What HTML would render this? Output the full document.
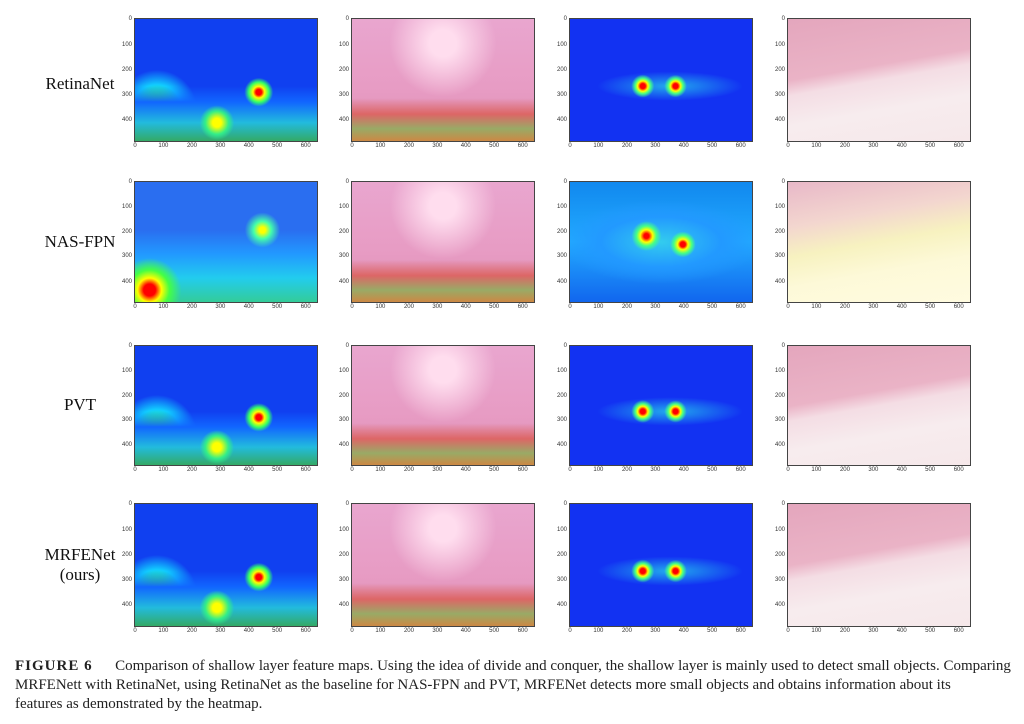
<!DOCTYPE html>
<html><head><meta charset="utf-8"><style>
body{margin:0;width:1024px;height:724px;background:#fff;position:relative;overflow:hidden;font-family:"Liberation Serif",serif;}
.p{position:absolute;width:184px;height:124px;border:1px solid #444;box-sizing:border-box;}
.yl{position:absolute;right:100%;margin-right:3px;font:6px "Liberation Sans",sans-serif;color:#333;transform:translateY(-50%);}
.xl{position:absolute;top:100%;margin-top:2px;font:6px "Liberation Sans",sans-serif;color:#333;transform:translateX(-50%);}
.rl{position:absolute;width:120px;left:20px;text-align:center;font-size:17px;color:#111;line-height:20px;}
.c1{background:
radial-gradient(circle at 68% 60%,#f00 2%,#ff0 4%,#3f6 7%,transparent 10%),
radial-gradient(circle at 45% 85%,#ff0 3%,#3e8 8%,transparent 12%),
linear-gradient(to top,#3a6 0%,#2bd 15%,#16f 32%,transparent 45%),
radial-gradient(circle at 12% 75%,#4f4 5%,#1cf 14%,transparent 22%),
#1040f0;}
.c1b{background:
radial-gradient(circle at 8% 90%,#f00 3%,#ff0 6%,#4f4 10%,transparent 16%),
radial-gradient(circle at 70% 40%,#ff0 2%,#4fa 6%,transparent 12%),
linear-gradient(to top,#3c9 0%,#2ce 20%,#29f 40%,transparent 60%),
#2a6ef0;}
.c2{background:
linear-gradient(to top,#c84 0%,#9a6 10%,#d66 22%,transparent 35%),
radial-gradient(circle at 50% 20%,#fde 10%,transparent 40%),
linear-gradient(#e9a6cf,#e79bc3 60%,#d98eb0);}
.c3{background:
radial-gradient(circle at 40% 55%,#f00 2%,#ff0 4%,#4f8 6%,transparent 9%),
radial-gradient(circle at 58% 55%,#f00 2%,#ff0 4%,#4f8 6%,transparent 9%),
radial-gradient(ellipse 40% 12% at 55% 55%,#2ae 0%,transparent 100%),
#1232f2;}
.c3b{background:
radial-gradient(circle at 42% 45%,#f00 2%,#ff0 5%,#4f8 8%,transparent 12%),
radial-gradient(circle at 62% 52%,#f00 2%,#ff0 4%,#4f8 7%,transparent 10%),
radial-gradient(ellipse 55% 35% at 50% 50%,#3ce 0%,#29f 60%,transparent 100%),
linear-gradient(#18e,#2af 50%,#16e);}
.c4{background:
linear-gradient(170deg,#e4a6bd 0%,#eab3c6 40%,#f4dde4 50%,#f7ecee 70%,#f6e8ea 100%);}
.c4b{background:
linear-gradient(170deg,#e8b8c8 0%,#f3d6cf 30%,#f7f2c0 50%,#fdf9d8 70%,#fffbe0 100%);}
.cap{position:absolute;left:15px;font-size:15px;color:#222;white-space:nowrap;}
</style></head><body>

<div class="rl" style="top:74px">RetinaNet</div>
<div class="rl" style="top:232px">NAS-FPN</div>
<div class="rl" style="top:395px">PVT</div>
<div class="rl" style="top:545px">MRFENet<br>(ours)</div>

<!-- row 1 -->
<div class="p c1" style="left:134px;top:18px"><span class="yl" style="top:0">0</span><span class="yl" style="top:21%">100</span><span class="yl" style="top:42%">200</span><span class="yl" style="top:62%">300</span><span class="yl" style="top:83%">400</span><span class="xl" style="left:0">0</span><span class="xl" style="left:15.6%">100</span><span class="xl" style="left:31.3%">200</span><span class="xl" style="left:46.9%">300</span><span class="xl" style="left:62.5%">400</span><span class="xl" style="left:78.1%">500</span><span class="xl" style="left:93.8%">600</span></div>
<div class="p c2" style="left:351px;top:18px"><span class="yl" style="top:0">0</span><span class="yl" style="top:21%">100</span><span class="yl" style="top:42%">200</span><span class="yl" style="top:62%">300</span><span class="yl" style="top:83%">400</span><span class="xl" style="left:0">0</span><span class="xl" style="left:15.6%">100</span><span class="xl" style="left:31.3%">200</span><span class="xl" style="left:46.9%">300</span><span class="xl" style="left:62.5%">400</span><span class="xl" style="left:78.1%">500</span><span class="xl" style="left:93.8%">600</span></div>
<div class="p c3" style="left:569px;top:18px"><span class="yl" style="top:0">0</span><span class="yl" style="top:21%">100</span><span class="yl" style="top:42%">200</span><span class="yl" style="top:62%">300</span><span class="yl" style="top:83%">400</span><span class="xl" style="left:0">0</span><span class="xl" style="left:15.6%">100</span><span class="xl" style="left:31.3%">200</span><span class="xl" style="left:46.9%">300</span><span class="xl" style="left:62.5%">400</span><span class="xl" style="left:78.1%">500</span><span class="xl" style="left:93.8%">600</span></div>
<div class="p c4" style="left:787px;top:18px"><span class="yl" style="top:0">0</span><span class="yl" style="top:21%">100</span><span class="yl" style="top:42%">200</span><span class="yl" style="top:62%">300</span><span class="yl" style="top:83%">400</span><span class="xl" style="left:0">0</span><span class="xl" style="left:15.6%">100</span><span class="xl" style="left:31.3%">200</span><span class="xl" style="left:46.9%">300</span><span class="xl" style="left:62.5%">400</span><span class="xl" style="left:78.1%">500</span><span class="xl" style="left:93.8%">600</span></div>

<!-- row 2 -->
<div class="p c1b" style="left:134px;top:181px;height:122px"><span class="yl" style="top:0">0</span><span class="yl" style="top:21%">100</span><span class="yl" style="top:42%">200</span><span class="yl" style="top:62%">300</span><span class="yl" style="top:83%">400</span><span class="xl" style="left:0">0</span><span class="xl" style="left:15.6%">100</span><span class="xl" style="left:31.3%">200</span><span class="xl" style="left:46.9%">300</span><span class="xl" style="left:62.5%">400</span><span class="xl" style="left:78.1%">500</span><span class="xl" style="left:93.8%">600</span></div>
<div class="p c2" style="left:351px;top:181px;height:122px"><span class="yl" style="top:0">0</span><span class="yl" style="top:21%">100</span><span class="yl" style="top:42%">200</span><span class="yl" style="top:62%">300</span><span class="yl" style="top:83%">400</span><span class="xl" style="left:0">0</span><span class="xl" style="left:15.6%">100</span><span class="xl" style="left:31.3%">200</span><span class="xl" style="left:46.9%">300</span><span class="xl" style="left:62.5%">400</span><span class="xl" style="left:78.1%">500</span><span class="xl" style="left:93.8%">600</span></div>
<div class="p c3b" style="left:569px;top:181px;height:122px"><span class="yl" style="top:0">0</span><span class="yl" style="top:21%">100</span><span class="yl" style="top:42%">200</span><span class="yl" style="top:62%">300</span><span class="yl" style="top:83%">400</span><span class="xl" style="left:0">0</span><span class="xl" style="left:15.6%">100</span><span class="xl" style="left:31.3%">200</span><span class="xl" style="left:46.9%">300</span><span class="xl" style="left:62.5%">400</span><span class="xl" style="left:78.1%">500</span><span class="xl" style="left:93.8%">600</span></div>
<div class="p c4b" style="left:787px;top:181px;height:122px"><span class="yl" style="top:0">0</span><span class="yl" style="top:21%">100</span><span class="yl" style="top:42%">200</span><span class="yl" style="top:62%">300</span><span class="yl" style="top:83%">400</span><span class="xl" style="left:0">0</span><span class="xl" style="left:15.6%">100</span><span class="xl" style="left:31.3%">200</span><span class="xl" style="left:46.9%">300</span><span class="xl" style="left:62.5%">400</span><span class="xl" style="left:78.1%">500</span><span class="xl" style="left:93.8%">600</span></div>

<!-- row 3 -->
<div class="p c1" style="left:134px;top:345px;height:121px"><span class="yl" style="top:0">0</span><span class="yl" style="top:21%">100</span><span class="yl" style="top:42%">200</span><span class="yl" style="top:62%">300</span><span class="yl" style="top:83%">400</span><span class="xl" style="left:0">0</span><span class="xl" style="left:15.6%">100</span><span class="xl" style="left:31.3%">200</span><span class="xl" style="left:46.9%">300</span><span class="xl" style="left:62.5%">400</span><span class="xl" style="left:78.1%">500</span><span class="xl" style="left:93.8%">600</span></div>
<div class="p c2" style="left:351px;top:345px;height:121px"><span class="yl" style="top:0">0</span><span class="yl" style="top:21%">100</span><span class="yl" style="top:42%">200</span><span class="yl" style="top:62%">300</span><span class="yl" style="top:83%">400</span><span class="xl" style="left:0">0</span><span class="xl" style="left:15.6%">100</span><span class="xl" style="left:31.3%">200</span><span class="xl" style="left:46.9%">300</span><span class="xl" style="left:62.5%">400</span><span class="xl" style="left:78.1%">500</span><span class="xl" style="left:93.8%">600</span></div>
<div class="p c3" style="left:569px;top:345px;height:121px"><span class="yl" style="top:0">0</span><span class="yl" style="top:21%">100</span><span class="yl" style="top:42%">200</span><span class="yl" style="top:62%">300</span><span class="yl" style="top:83%">400</span><span class="xl" style="left:0">0</span><span class="xl" style="left:15.6%">100</span><span class="xl" style="left:31.3%">200</span><span class="xl" style="left:46.9%">300</span><span class="xl" style="left:62.5%">400</span><span class="xl" style="left:78.1%">500</span><span class="xl" style="left:93.8%">600</span></div>
<div class="p c4" style="left:787px;top:345px;height:121px"><span class="yl" style="top:0">0</span><span class="yl" style="top:21%">100</span><span class="yl" style="top:42%">200</span><span class="yl" style="top:62%">300</span><span class="yl" style="top:83%">400</span><span class="xl" style="left:0">0</span><span class="xl" style="left:15.6%">100</span><span class="xl" style="left:31.3%">200</span><span class="xl" style="left:46.9%">300</span><span class="xl" style="left:62.5%">400</span><span class="xl" style="left:78.1%">500</span><span class="xl" style="left:93.8%">600</span></div>

<!-- row 4 -->
<div class="p c1" style="left:134px;top:503px"><span class="yl" style="top:0">0</span><span class="yl" style="top:21%">100</span><span class="yl" style="top:42%">200</span><span class="yl" style="top:62%">300</span><span class="yl" style="top:83%">400</span><span class="xl" style="left:0">0</span><span class="xl" style="left:15.6%">100</span><span class="xl" style="left:31.3%">200</span><span class="xl" style="left:46.9%">300</span><span class="xl" style="left:62.5%">400</span><span class="xl" style="left:78.1%">500</span><span class="xl" style="left:93.8%">600</span></div>
<div class="p c2" style="left:351px;top:503px"><span class="yl" style="top:0">0</span><span class="yl" style="top:21%">100</span><span class="yl" style="top:42%">200</span><span class="yl" style="top:62%">300</span><span class="yl" style="top:83%">400</span><span class="xl" style="left:0">0</span><span class="xl" style="left:15.6%">100</span><span class="xl" style="left:31.3%">200</span><span class="xl" style="left:46.9%">300</span><span class="xl" style="left:62.5%">400</span><span class="xl" style="left:78.1%">500</span><span class="xl" style="left:93.8%">600</span></div>
<div class="p c3" style="left:569px;top:503px"><span class="yl" style="top:0">0</span><span class="yl" style="top:21%">100</span><span class="yl" style="top:42%">200</span><span class="yl" style="top:62%">300</span><span class="yl" style="top:83%">400</span><span class="xl" style="left:0">0</span><span class="xl" style="left:15.6%">100</span><span class="xl" style="left:31.3%">200</span><span class="xl" style="left:46.9%">300</span><span class="xl" style="left:62.5%">400</span><span class="xl" style="left:78.1%">500</span><span class="xl" style="left:93.8%">600</span></div>
<div class="p c4" style="left:787px;top:503px"><span class="yl" style="top:0">0</span><span class="yl" style="top:21%">100</span><span class="yl" style="top:42%">200</span><span class="yl" style="top:62%">300</span><span class="yl" style="top:83%">400</span><span class="xl" style="left:0">0</span><span class="xl" style="left:15.6%">100</span><span class="xl" style="left:31.3%">200</span><span class="xl" style="left:46.9%">300</span><span class="xl" style="left:62.5%">400</span><span class="xl" style="left:78.1%">500</span><span class="xl" style="left:93.8%">600</span></div>

<div class="cap" style="top:658px"><b style="letter-spacing:1px">FIGURE 6</b>&nbsp;&nbsp;&nbsp;&nbsp;&nbsp; Comparison of shallow layer feature maps. Using the idea of divide and conquer, the shallow layer is mainly used to detect small objects. Comparing</div>
<div class="cap" style="top:677px">MRFENett with RetinaNet, using RetinaNet as the baseline for NAS-FPN and PVT, MRFENet detects more small objects and obtains information about its</div>
<div class="cap" style="top:696px">features as demonstrated by the heatmap.</div>
</body></html>
